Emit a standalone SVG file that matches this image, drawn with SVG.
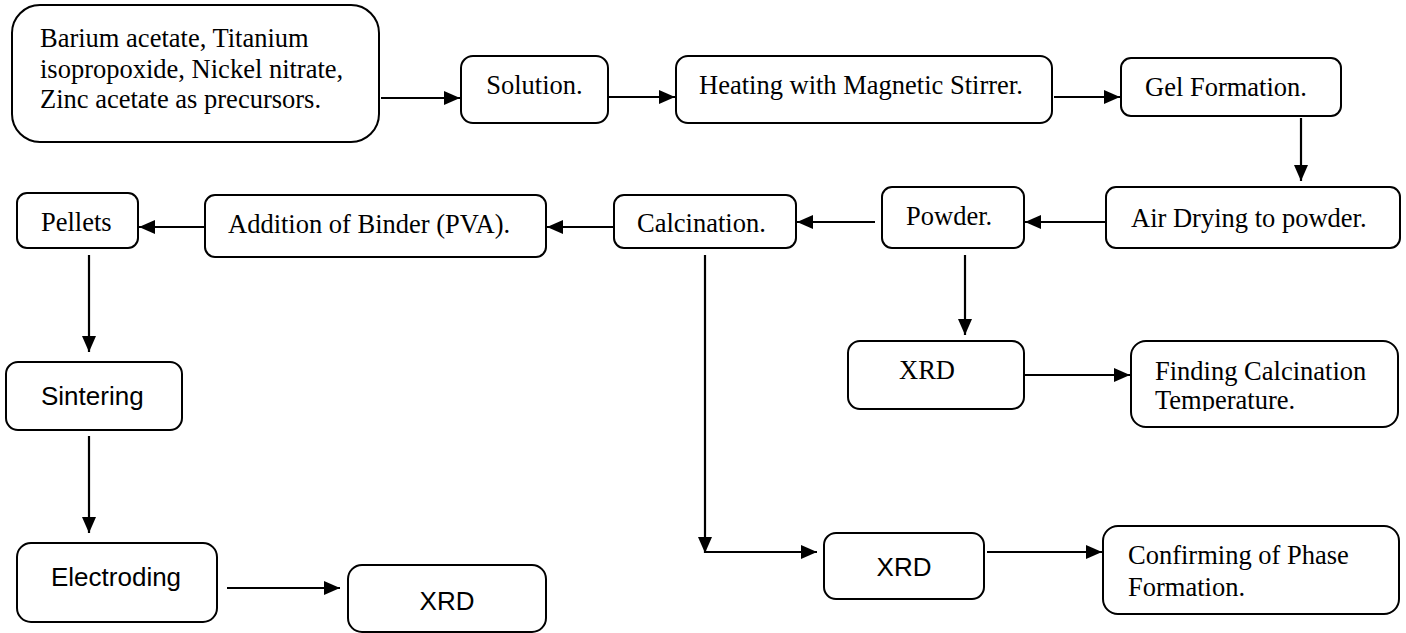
<svg xmlns="http://www.w3.org/2000/svg" width="1406" height="633" viewBox="0 0 1406 633">
<style>
.box{fill:#fff;stroke:#000;stroke-width:2}
.t{font-family:"Liberation Serif","Times New Roman",serif;font-size:26.5px;fill:#000}
.s{font-family:"Liberation Sans",Arial,sans-serif;font-size:26px;fill:#000}
.c{fill:none;stroke:#000;stroke-width:2.2}
</style>
<defs>
<marker id="ah" markerUnits="userSpaceOnUse" markerWidth="16" markerHeight="14" refX="16" refY="7" orient="auto">
<path d="M0,0 L16,7 L0,14 z" fill="#000"/>
</marker>
<clipPath id="clipF"><rect x="1131" y="341" width="268" height="70"/></clipPath>
</defs>
<rect width="1406" height="633" fill="#fff"/>

<g id="connectors">
<line class="c" x1="381" y1="98" x2="460" y2="98" marker-end="url(#ah)"/>
<line class="c" x1="609" y1="97" x2="675" y2="97" marker-end="url(#ah)"/>
<line class="c" x1="1054" y1="97" x2="1120" y2="97" marker-end="url(#ah)"/>
<line class="c" x1="1301" y1="118" x2="1301" y2="181" marker-end="url(#ah)"/>
<line class="c" x1="1106" y1="222" x2="1025" y2="222" marker-end="url(#ah)"/>
<line class="c" x1="875" y1="222" x2="797" y2="222" marker-end="url(#ah)"/>
<line class="c" x1="613" y1="227" x2="547" y2="227" marker-end="url(#ah)"/>
<line class="c" x1="205" y1="227" x2="139" y2="227" marker-end="url(#ah)"/>
<line class="c" x1="89" y1="255" x2="89" y2="352" marker-end="url(#ah)"/>
<line class="c" x1="89" y1="436" x2="89" y2="533" marker-end="url(#ah)"/>
<line class="c" x1="227" y1="588" x2="340" y2="588" marker-end="url(#ah)"/>
<line class="c" x1="965" y1="255" x2="965" y2="335" marker-end="url(#ah)"/>
<line class="c" x1="1025" y1="375" x2="1130" y2="375" marker-end="url(#ah)"/>
<line class="c" x1="705" y1="255" x2="705" y2="553" marker-end="url(#ah)"/>
<line class="c" x1="705" y1="552" x2="817" y2="552" marker-end="url(#ah)"/>
<line class="c" x1="987" y1="552" x2="1102" y2="552" marker-end="url(#ah)"/>
</g>

<g id="n-precursors">
<rect class="box" x="12" y="5" width="367" height="137" rx="28"/>
<text class="t" x="40" y="47">Barium acetate, Titanium</text>
<text class="t" x="40" y="78">isopropoxide, Nickel nitrate,</text>
<text class="t" x="40" y="108">Zinc acetate as precursors.</text>
</g>
<g id="n-solution">
<rect class="box" x="461" y="56" width="147" height="67" rx="12"/>
<text class="t" x="534.5" y="94" text-anchor="middle">Solution.</text>
</g>
<g id="n-heating">
<rect class="box" x="676" y="56" width="376" height="67" rx="12"/>
<text class="t" x="699" y="94">Heating with Magnetic Stirrer.</text>
</g>
<g id="n-gel">
<rect class="box" x="1121" y="58" width="220" height="58" rx="10"/>
<text class="t" x="1145" y="96">Gel Formation.</text>
</g>
<g id="n-air">
<rect class="box" x="1106" y="187" width="294" height="61" rx="10"/>
<text class="t" x="1131" y="227">Air Drying to powder.</text>
</g>
<g id="n-powder">
<rect class="box" x="882" y="187" width="142" height="61" rx="10"/>
<text class="t" x="906" y="225">Powder.</text>
</g>
<g id="n-calcination">
<rect class="box" x="614" y="195" width="182" height="53" rx="10"/>
<text class="t" x="637" y="232">Calcination.</text>
</g>
<g id="n-binder">
<rect class="box" x="205" y="195" width="341" height="62" rx="10"/>
<text class="t" x="228" y="233">Addition of Binder (PVA).</text>
</g>
<g id="n-pellets">
<rect class="box" x="17" y="193" width="121" height="55" rx="10"/>
<text class="t" x="41" y="231">Pellets</text>
</g>
<g id="n-sintering">
<rect class="box" x="6" y="362" width="176" height="68" rx="12"/>
<text class="s" x="41" y="405">Sintering</text>
</g>
<g id="n-electroding">
<rect class="box" x="17" y="543" width="200" height="79" rx="14"/>
<text class="s" x="51" y="586">Electroding</text>
</g>
<g id="n-xrd3">
<rect class="box" x="348" y="565" width="198" height="67" rx="14"/>
<text class="s" x="447" y="610" text-anchor="middle">XRD</text>
</g>
<g id="n-xrd1">
<rect class="box" x="848" y="341" width="176" height="68" rx="12"/>
<text class="t" x="899" y="379">XRD</text>
</g>
<g id="n-finding">
<rect class="box" x="1131" y="341" width="267" height="86" rx="15"/>
<g clip-path="url(#clipF)">
<text class="t" x="1155" y="380">Finding Calcination</text>
<text class="t" x="1155" y="409">Temperature.</text>
</g>
</g>
<g id="n-xrd2">
<rect class="box" x="824" y="533" width="160" height="66" rx="12"/>
<text class="s" x="904" y="576" text-anchor="middle">XRD</text>
</g>
<g id="n-confirming">
<rect class="box" x="1103" y="526" width="296" height="88" rx="15"/>
<text class="t" x="1128" y="564">Confirming of Phase</text>
<text class="t" x="1128" y="596">Formation.</text>
</g>
</svg>
